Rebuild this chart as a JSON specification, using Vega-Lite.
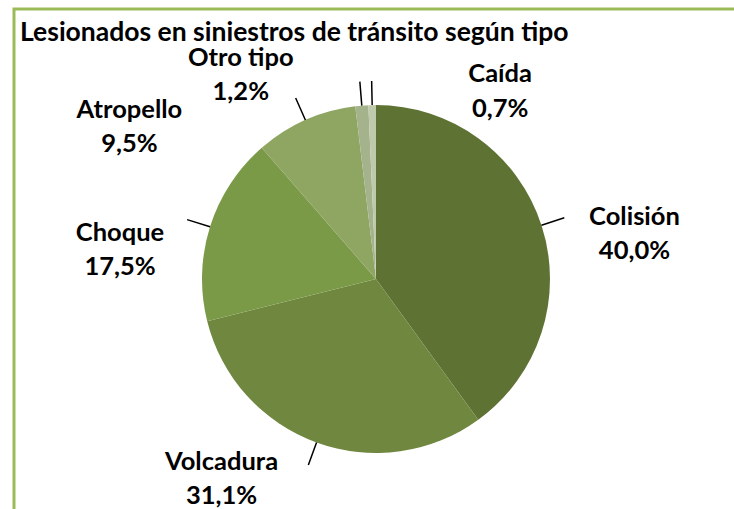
{
  "$schema": "https://vega.github.io/schema/vega-lite/v6.json",
  "autosize": {"type": "none"},
  "width": 724,
  "height": 540,
  "padding": {"left": 14, "top": 9, "right": -4, "bottom": -40},
  "background": "white",
  "view": {"stroke": "#9BBB59", "strokeWidth": 3},
  "title": {
    "text": "Lesionados en siniestros de tránsito según tipo",
    "anchor": "start",
    "frame": "group",
    "font": "Lato",
    "fontSize": 26.5,
    "fontWeight": "bold",
    "color": "black",
    "baseline": "alphabetic",
    "offset": 0,
    "dx": 6,
    "dy": 58
  },
  "config": {"view": {"stroke": "#9BBB59", "strokeWidth": 3}},
  "data": {
    "values": [
      {"tipo": "Colisión", "pct": 40.0},
      {"tipo": "Volcadura", "pct": 31.1},
      {"tipo": "Choque", "pct": 17.5},
      {"tipo": "Atropello", "pct": 9.5},
      {"tipo": "Otro tipo", "pct": 1.2},
      {"tipo": "Caída", "pct": 0.7}
    ]
  },
  "transform": [
    {"window": [{"op": "sum", "field": "pct", "as": "end"}], "sort": [{"field": "pct", "order": "descending"}], "frame": [null, 0]},
    {"calculate": "datum.end - datum.pct", "as": "start"},
    {"calculate": "datum.end - datum.pct / 2", "as": "mid"},
    {"calculate": "datum.tipo + '\\n' + replace(format(datum.pct, '.1f'), '.', ',') + '%'", "as": "label"}
  ],
  "layer": [
    {
      "mark": {"type": "arc", "radius": 174},
      "encoding": {
        "theta": {"field": "start", "type": "quantitative", "stack": null, "scale": {"domain": [0, 100]}},
        "theta2": {"field": "end"},
        "color": {
          "field": "tipo",
          "type": "nominal",
          "legend": null,
          "scale": {
            "domain": ["Colisión", "Volcadura", "Choque", "Atropello", "Otro tipo", "Caída"],
            "range": ["#5E7234", "#6F873F", "#7B9A48", "#8FA562", "#A5B38C", "#BFC9AC"]
          }
        }
      }
    },
    {
      "mark": {"type": "arc", "radius": 198, "radius2": 174, "filled": false, "stroke": "black", "strokeWidth": 1.5},
      "encoding": {
        "theta": {"field": "mid", "type": "quantitative", "stack": null, "scale": {"domain": [0, 100]}},
        "theta2": {"field": "mid"}
      }
    },
    {
      "transform": [{"filter": "datum.tipo === 'Colisión'"}],
      "mark": {"type": "text", "radius": 174, "dx": 93, "dy": -8, "font": "Lato", "fontSize": 25.5, "fontWeight": "bold", "lineBreak": "\n", "lineHeight": 34, "align": "center", "baseline": "middle", "color": "black"},
      "encoding": {"theta": {"field": "mid", "type": "quantitative", "stack": null, "scale": {"domain": [0, 100]}}, "text": {"field": "label"}}
    },
    {
      "transform": [{"filter": "datum.tipo === 'Volcadura'"}],
      "mark": {"type": "text", "radius": 174, "dx": -95, "dy": 19, "font": "Lato", "fontSize": 25.5, "fontWeight": "bold", "lineBreak": "\n", "lineHeight": 34, "align": "center", "baseline": "middle", "color": "black"},
      "encoding": {"theta": {"field": "mid", "type": "quantitative", "stack": null, "scale": {"domain": [0, 100]}}, "text": {"field": "label"}}
    },
    {
      "transform": [{"filter": "datum.tipo === 'Choque'"}],
      "mark": {"type": "text", "radius": 174, "dx": -90, "dy": 6, "font": "Lato", "fontSize": 25.5, "fontWeight": "bold", "lineBreak": "\n", "lineHeight": 34, "align": "center", "baseline": "middle", "color": "black"},
      "encoding": {"theta": {"field": "mid", "type": "quantitative", "stack": null, "scale": {"domain": [0, 100]}}, "text": {"field": "label"}}
    },
    {
      "transform": [{"filter": "datum.tipo === 'Atropello'"}],
      "mark": {"type": "text", "radius": 174, "dx": -176, "dy": -10, "font": "Lato", "fontSize": 25.5, "fontWeight": "bold", "lineBreak": "\n", "lineHeight": 34, "align": "center", "baseline": "middle", "color": "black"},
      "encoding": {"theta": {"field": "mid", "type": "quantitative", "stack": null, "scale": {"domain": [0, 100]}}, "text": {"field": "label"}}
    },
    {
      "transform": [{"filter": "datum.tipo === 'Otro tipo'"}],
      "mark": {"type": "text", "radius": 174, "dx": -121, "dy": -48, "font": "Lato", "fontSize": 25.5, "fontWeight": "bold", "lineBreak": "\n", "lineHeight": 34, "align": "center", "baseline": "middle", "color": "black"},
      "encoding": {"theta": {"field": "mid", "type": "quantitative", "stack": null, "scale": {"domain": [0, 100]}}, "text": {"field": "label"}}
    },
    {
      "transform": [{"filter": "datum.tipo === 'Caída'"}],
      "mark": {"type": "text", "radius": 174, "dx": 128, "dy": -31, "font": "Lato", "fontSize": 25.5, "fontWeight": "bold", "lineBreak": "\n", "lineHeight": 35, "align": "center", "baseline": "middle", "color": "black"},
      "encoding": {"theta": {"field": "mid", "type": "quantitative", "stack": null, "scale": {"domain": [0, 100]}}, "text": {"field": "label"}}
    }
  ]
}
